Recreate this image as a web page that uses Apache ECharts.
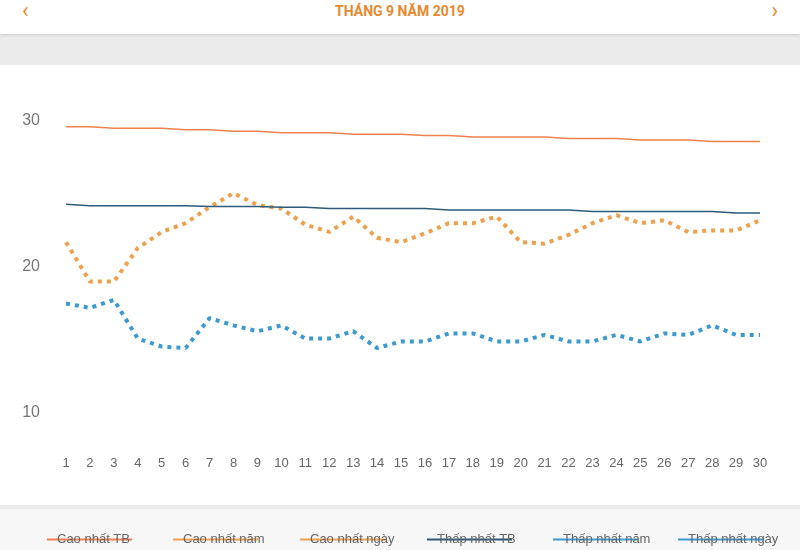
<!DOCTYPE html>
<html><head><meta charset="utf-8">
<script src="https://cdn.jsdelivr.net/npm/echarts@6/dist/echarts.min.js"></script>
<style>
body{margin:0;width:800px;height:550px;overflow:hidden;background:#ebebeb;font-family:Roboto,sans-serif}
#head{position:absolute;left:0;top:0;width:800px;height:34px;background:#fff;box-shadow:0 1px 3px #ccc;color:#e8892f;font-weight:bold;font-size:14px;text-align:center;line-height:22px}
#head span{position:absolute;top:0;font-size:22px;font-weight:normal}
#panel{position:absolute;left:0;top:65px;width:800px;height:440px;background:#fff}
#foot{position:absolute;left:0;top:509px;width:800px;height:41px;background:#f7f7f7}
#chart{position:absolute;left:0;top:0;width:800px;height:580px}
</style></head><body>
<div id="head"><span style="left:22px">&#8249;</span>THÁNG 9 NĂM 2019<span style="right:22px">&#8250;</span></div>
<div id="panel"></div><div id="foot"></div>
<div id="chart"></div>
<script>
var days = [];
for (var i = 1; i <= 30; i++) days.push(String(i));

var maxAvg = [29.6,29.6,29.5,29.5,29.5,29.4,29.4,29.3,29.3,29.2,29.2,29.2,29.1,29.1,29.1,29.0,29.0,28.9,28.9,28.9,28.9,28.8,28.8,28.8,28.7,28.7,28.7,28.6,28.6,28.6];
var maxYear = [];
var maxDaily = [21.7,19.0,19.0,21.3,22.4,23.0,24.1,25.05,24.25,24.0,22.9,22.4,23.45,22.0,21.7,22.3,23.0,23.0,23.45,21.7,21.6,22.2,23.0,23.55,23.0,23.2,22.4,22.5,22.5,23.2];
var minAvg = [24.3,24.2,24.2,24.2,24.2,24.2,24.15,24.15,24.15,24.1,24.1,24.0,24.0,24.0,24.0,24.0,23.9,23.9,23.9,23.9,23.9,23.9,23.8,23.8,23.8,23.8,23.8,23.8,23.7,23.7];
var minYear = [];
var minDaily = [17.5,17.2,17.75,15.1,14.55,14.45,16.5,16.0,15.6,16.0,15.1,15.1,15.6,14.45,14.9,14.9,15.45,15.45,14.9,14.9,15.35,14.9,14.9,15.35,14.9,15.45,15.35,16.0,15.35,15.35];
var names = ['Cao nhất TB','Cao nhất năm','Cao nhất ngày','Thấp nhất TB','Thấp nhất năm','Thấp nhất ngày'];
var legendLeft = [42, 168, 295, 422, 548, 673];

var ORANGE = '#f0824e', ORANGE2 = '#f0a04b', NAVY = '#2f5b78', BLUE = '#3a9ad2';
function s(name, data, color, width, type) {
  return {name: name, type: 'line', data: data, showSymbol: false,
    lineStyle: {color: color, width: width, type: type}, itemStyle: {color: color}};
}
var lineTypes = [[ORANGE,1.5,'solid'],[ORANGE2,4,'solid'],[ORANGE2,4,[4,5]],[NAVY,1.5,'solid'],[BLUE,4,'solid'],[BLUE,4,[4,5]]];
var legends = names.map(function (n, k) {
  return {top: 528, left: legendLeft[k], itemWidth: 85, itemHeight: 14,
    icon: 'path://M0,6h85v2h-85z', data: [n],
    itemStyle: {color: lineTypes[k][0]},
    textStyle: {color: '#666', fontSize: 13, padding: [30, 0, 0, -80]}};
});
var chart = echarts.init(document.getElementById('chart'));
chart.setOption({
  animation: false,
  grid: {left: 66, right: 40, top: 121, bottom: 167},
  xAxis: {type: 'category', data: days, boundaryGap: false,
    axisLine: {show: false}, axisTick: {show: false},
    axisLabel: {margin: 44, color: '#666', fontSize: 13}},
  yAxis: {type: 'value', min: 10, max: 30, interval: 10, splitLine: {show: false},
    axisLabel: {margin: 26, color: '#777', fontSize: 16}},
  legend: legends,
  series: [
    s(names[0], maxAvg, ORANGE, 1.5, 'solid'),
    s(names[1], maxYear, ORANGE2, 4, 'solid'),
    s(names[2], maxDaily, ORANGE2, 4, [4, 5]),
    s(names[3], minAvg, NAVY, 1.5, 'solid'),
    s(names[4], minYear, BLUE, 4, 'solid'),
    s(names[5], minDaily, BLUE, 4, [4, 5])
  ]
});
</script></body></html>
